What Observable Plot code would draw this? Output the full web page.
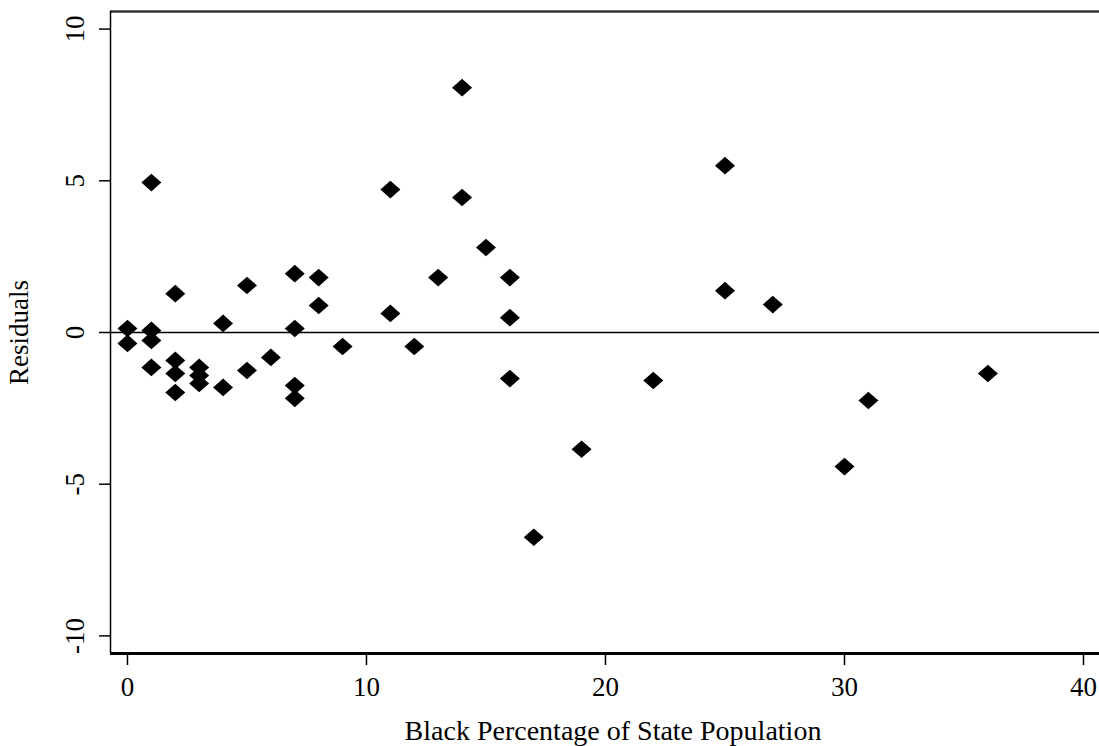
<!DOCTYPE html>
<html><head><meta charset="utf-8">
<script src="https://cdn.jsdelivr.net/npm/d3@7"></script>
<script src="https://cdn.jsdelivr.net/npm/@observablehq/plot@0.6"></script>
<style>body{margin:0;background:#fff}</style>
</head><body><div id="chart"></div>
<script>
const blackPct = [0,0, 1,1,1,1, 2,2,2,2, 3,3,3, 4,4, 5,5, 6, 7,7,7,7, 8,8, 9, 11,11, 12, 13, 14,14, 15, 16,16,16, 17, 19, 22, 25,25, 27, 30, 31, 36];
const residuals = [0.13,-0.36, 4.94,0.07,-0.26,-1.15, 1.28,-0.92,-1.35,-1.98, -1.15,-1.42,-1.68, 0.3,-1.81, 1.55,-1.25, -0.82, 1.94,0.13,-1.75,-2.17, 1.81,0.89, -0.46, 4.71,0.63, -0.46, 1.81, 8.07,4.45, 2.8, 1.81,0.49,-1.52, -6.75, -3.85, -1.58, 5.5,1.38, 0.92, -4.42, -2.24, -1.35];
const xTicks = [0,10,20,30,40];
const yTicks = [-10,-5,0,5,10];
const xTitle = "Black Percentage of State Population";
const yTitle = "Residuals";
const xDomain = [-0.71, 40.67];
const yDomain = [-10.58, 10.58];

const data = blackPct.map((x, i) => ({x, y: residuals[i]}));
const wideDiamond = {draw(ctx, size) {
  const r = Math.sqrt(size / Math.PI), h = r * 0.88;
  ctx.moveTo(0, -h); ctx.lineTo(r, 0); ctx.lineTo(0, h); ctx.lineTo(-r, 0); ctx.closePath();
}};
const font = '"Liberation Serif", "Times New Roman", serif';

const chart = Plot.plot({
  width: 1099, height: 746,
  marginLeft: 110, marginRight: 0, marginTop: 11, marginBottom: 93,
  style: {fontFamily: font, fontSize: "26px", background: "#fff", color: "#000", overflow: "visible"},
  x: {domain: xDomain},
  y: {domain: yDomain},
  marks: [
    Plot.ruleY([0], {stroke: "#000", strokeWidth: 1.5}),
    Plot.ruleY([yDomain[1]], {stroke: "#333", strokeWidth: 2.5}),
    Plot.ruleX([xDomain[0]], {stroke: "#000", strokeWidth: 1.5}),
    Plot.axisY({ticks: yTicks, tickSize: 11, tickFormat: () => "", strokeWidth: 1.5, label: null}),
    Plot.text(yTicks, {y: d => d, text: d => String(d), frameAnchor: "left", dx: -27, rotate: -90, textAnchor: "middle", lineAnchor: "bottom", fontSize: 27}),
    Plot.text([yTitle], {text: d => d, frameAnchor: "left", dx: -91, rotate: -90, textAnchor: "middle", lineAnchor: "middle", fontSize: 27}),
    Plot.axisX({ticks: xTicks, tickSize: 12, tickPadding: 11, tickFormat: d => String(d), strokeWidth: 1.5, fontSize: 27, label: null}),
    Plot.text([xTitle], {text: d => d, frameAnchor: "bottom", dx: 8, dy: 86, lineAnchor: "bottom", fontSize: 28}),
    Plot.ruleY([yDomain[0]], {stroke: "#000", strokeWidth: 3}),
    Plot.dot(data, {x: "x", y: "y", symbol: wideDiamond, r: 10, fill: "#000", stroke: "none"})
  ]
});
document.getElementById("chart").appendChild(chart);
</script>
</body></html>
